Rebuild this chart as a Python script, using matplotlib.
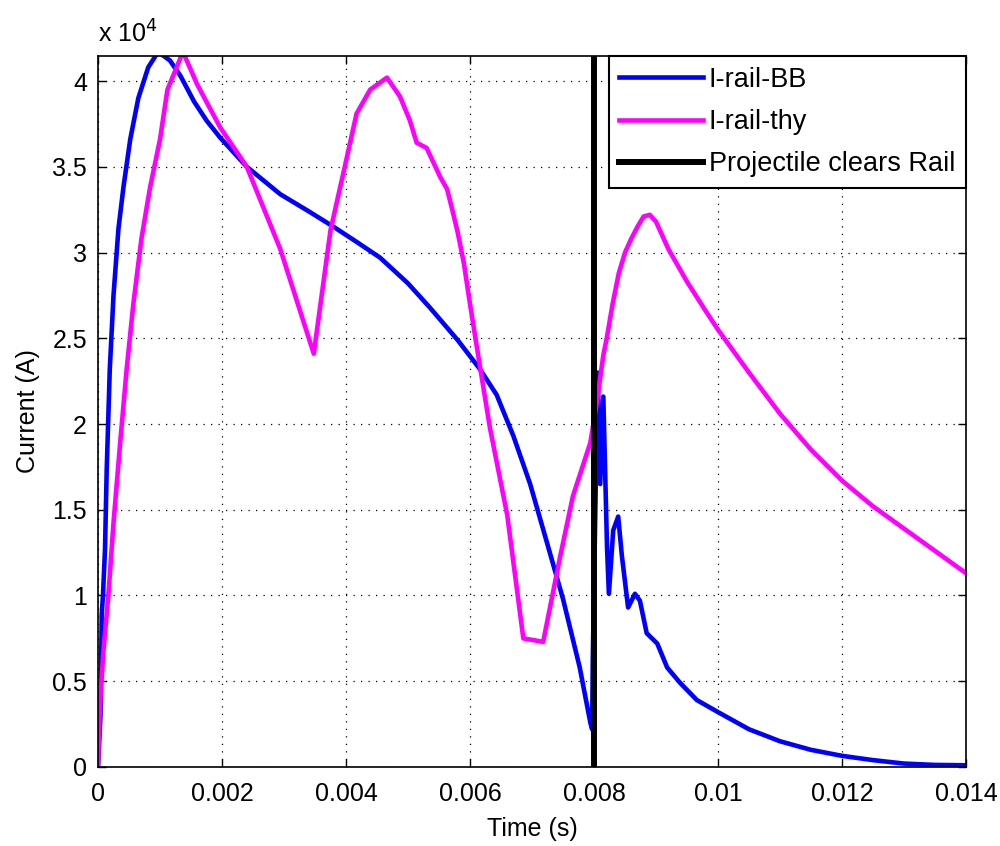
import matplotlib
matplotlib.use("Agg")
import matplotlib.pyplot as plt
from matplotlib.ticker import FormatStrFormatter

plt.rcParams['font.family'] = ['Liberation Sans', 'DejaVu Sans']

# Time (s) and current (x 10^4 A)
t_bb = [0, 0.00004, 0.00006, 0.00008, 0.000113, 0.00014, 0.00019, 0.00025, 0.00033, 0.00041,
        0.00052, 0.00065, 0.00081, 0.00097, 0.00116, 0.00133, 0.00155, 0.00175, 0.00197, 0.0024,
        0.00294, 0.0034, 0.0038, 0.0042, 0.00455, 0.005, 0.00535, 0.0058, 0.00616, 0.00643,
        0.0067, 0.00697, 0.00724, 0.0075, 0.00777, 0.00794, 0.00797, 0.00798, 0.00806, 0.0081,
        0.00815, 0.00821, 0.00824, 0.00831, 0.00839, 0.00845, 0.00855, 0.00866, 0.00874, 0.00885,
        0.00902, 0.00918, 0.00939, 0.00966, 0.01, 0.0105, 0.011, 0.0115, 0.012, 0.0125,
        0.013, 0.0135, 0.014]
i_bb = [0, 0.3, 0.89, 1.0, 1.27, 1.73, 2.32, 2.75, 3.14, 3.38,
        3.66, 3.9, 4.08, 4.17, 4.12, 4.03, 3.88, 3.77, 3.67, 3.5,
        3.34, 3.24, 3.15, 3.055, 2.97, 2.82, 2.68, 2.49, 2.32, 2.17,
        1.93, 1.65, 1.31, 0.98, 0.58, 0.26, 0.22, 0.62, 2.30, 1.65,
        2.16, 1.28, 1.01, 1.38, 1.46, 1.23, 0.93, 1.01, 0.97, 0.78,
        0.72, 0.58, 0.49, 0.39, 0.32, 0.22, 0.15, 0.10, 0.065, 0.04,
        0.02, 0.012, 0.01]

t_thy = [0, 0.00003, 0.000086, 0.000167, 0.000247, 0.000355, 0.000462, 0.00057, 0.0007, 0.00084,
         0.001, 0.00112, 0.00137, 0.0016, 0.00197, 0.0024, 0.00294, 0.00348, 0.00375, 0.00398,
         0.00417, 0.00439, 0.00466, 0.00487, 0.00503, 0.00514, 0.0053, 0.00552, 0.00563, 0.0057,
         0.0058, 0.0059, 0.006, 0.00611, 0.00632, 0.0066, 0.00686, 0.00718, 0.00745, 0.00766,
         0.00794, 0.00806, 0.0081, 0.00815, 0.00821, 0.0083, 0.0084, 0.0085, 0.0086, 0.0087,
         0.0088, 0.0089, 0.009, 0.0092, 0.0095, 0.0098, 0.01, 0.0105, 0.011, 0.0115,
         0.012, 0.0125, 0.013, 0.0135, 0.014]
i_thy = [0, 0.35, 0.67, 1.0, 1.41, 1.88, 2.32, 2.7, 3.08, 3.38,
         3.66, 3.95, 4.17, 3.98, 3.73, 3.5, 3.02, 2.41, 3.13, 3.5,
         3.81, 3.95, 4.02, 3.91, 3.77, 3.64, 3.61, 3.44, 3.37, 3.27,
         3.12, 2.94, 2.7, 2.45, 1.98, 1.47, 0.75, 0.73, 1.22, 1.58,
         1.89, 2.16, 2.27, 2.4, 2.51, 2.7, 2.88, 3.0, 3.08, 3.15,
         3.21, 3.22, 3.18, 3.02, 2.83, 2.66, 2.55, 2.3, 2.06, 1.85,
         1.67, 1.52, 1.39, 1.26, 1.13]

t_clear = 0.008
x_ticks = [0, 0.002, 0.004, 0.006, 0.008, 0.01, 0.012, 0.014]
y_ticks = [0, 0.5, 1, 1.5, 2, 2.5, 3, 3.5, 4]

fig = plt.figure(figsize=(10, 8.46), dpi=100)
ax = fig.add_axes([0.098, 0.0934, 0.868, 0.8404])

ax.plot(t_bb, i_bb, color=(0, 0, 1), lw=3.3, label='I-rail-BB')
ax.plot(t_thy, i_thy, color=(1, 0, 1), lw=3.3, label='I-rail-thy')
ax.axvline(t_clear, color='k', lw=4.3, label='Projectile clears Rail')

ax.set_xlim(0, 0.014)
ax.set_ylim(0, 4.146)
ax.set_xticks(x_ticks)
ax.set_yticks(y_ticks)
ax.xaxis.set_major_formatter(FormatStrFormatter('%g'))
ax.yaxis.set_major_formatter(FormatStrFormatter('%g'))

ax.grid(True, linestyle=(0, (1, 5)), color='k', lw=0.9)
ax.set_axisbelow(True)
ax.tick_params(direction='in', length=6, width=1, top=True, right=True,
               labelsize=18)
ax.tick_params(axis='x', pad=11)
ax.tick_params(axis='y', pad=8)
for s in ax.spines.values():
    s.set_linewidth(1.2)

ax.set_xlabel('Time (s)', fontsize=18, labelpad=8)
ax.set_ylabel('Current (A)', fontsize=18, labelpad=9)
ax.text(0, 1.012, r'x 10$^4$', transform=ax.transAxes, fontsize=18,
        ha='left', va='bottom')

leg = ax.legend(loc='upper right', bbox_to_anchor=(1, 1), borderaxespad=0,
                fontsize=19.5, fancybox=False, framealpha=1, edgecolor='k',
                handlelength=3.1, handletextpad=0.2, labelspacing=0.6,
                borderpad=0.4)
leg.get_frame().set_linewidth(1.5)

fig.savefig('out.png', dpi=100)
plt.close(fig)
